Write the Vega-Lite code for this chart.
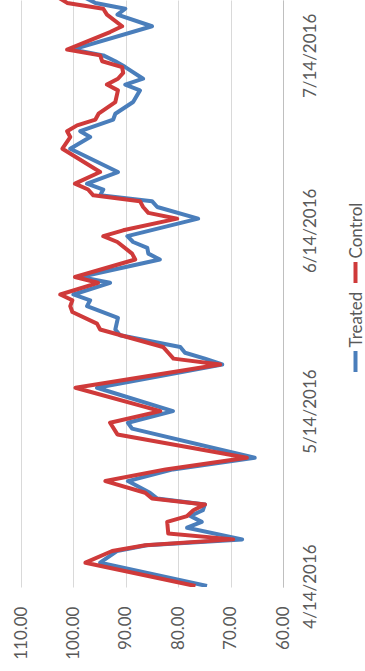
{
  "$schema": "https://vega.github.io/schema/vega-lite/v6.json",
  "width": 262,
  "height": 587,
  "autosize": {"type": "none"},
  "padding": {"left": 21, "top": 0, "right": 82, "bottom": 84},
  "background": "white",
  "config": {"view": {"stroke": null}, "font": "Lato"},
  "datasets": {
    "d": [
      {"date": "2016-04-14", "series": "Treated", "value": 74.5},
      {"date": "2016-04-18", "series": "Treated", "value": 94.9},
      {"date": "2016-04-20", "series": "Treated", "value": 91.7},
      {"date": "2016-04-21", "series": "Treated", "value": 86.0},
      {"date": "2016-04-22", "series": "Treated", "value": 67.8},
      {"date": "2016-04-24", "series": "Treated", "value": 78.3},
      {"date": "2016-04-25", "series": "Treated", "value": 75.5},
      {"date": "2016-04-26", "series": "Treated", "value": 77.7},
      {"date": "2016-04-27", "series": "Treated", "value": 75.3},
      {"date": "2016-04-28", "series": "Treated", "value": 74.9},
      {"date": "2016-04-29", "series": "Treated", "value": 84.0},
      {"date": "2016-04-30", "series": "Treated", "value": 85.4},
      {"date": "2016-05-02", "series": "Treated", "value": 89.6},
      {"date": "2016-05-04", "series": "Treated", "value": 81.0},
      {"date": "2016-05-06", "series": "Treated", "value": 65.4},
      {"date": "2016-05-11", "series": "Treated", "value": 88.8},
      {"date": "2016-05-12", "series": "Treated", "value": 89.6},
      {"date": "2016-05-14", "series": "Treated", "value": 81.0},
      {"date": "2016-05-18", "series": "Treated", "value": 95.5},
      {"date": "2016-05-22", "series": "Treated", "value": 71.6},
      {"date": "2016-05-23", "series": "Treated", "value": 74.9},
      {"date": "2016-05-24", "series": "Treated", "value": 78.7},
      {"date": "2016-05-25", "series": "Treated", "value": 79.6},
      {"date": "2016-05-27", "series": "Treated", "value": 91.1},
      {"date": "2016-05-28", "series": "Treated", "value": 92.0},
      {"date": "2016-05-30", "series": "Treated", "value": 91.5},
      {"date": "2016-06-01", "series": "Treated", "value": 97.4},
      {"date": "2016-06-02", "series": "Treated", "value": 96.8},
      {"date": "2016-06-03", "series": "Treated", "value": 100.0},
      {"date": "2016-06-05", "series": "Treated", "value": 93.0},
      {"date": "2016-06-06", "series": "Treated", "value": 98.7},
      {"date": "2016-06-09", "series": "Treated", "value": 83.5},
      {"date": "2016-06-10", "series": "Treated", "value": 85.7},
      {"date": "2016-06-11", "series": "Treated", "value": 85.9},
      {"date": "2016-06-12", "series": "Treated", "value": 88.6},
      {"date": "2016-06-13", "series": "Treated", "value": 89.7},
      {"date": "2016-06-16", "series": "Treated", "value": 76.2},
      {"date": "2016-06-18", "series": "Treated", "value": 84.0},
      {"date": "2016-06-19", "series": "Treated", "value": 85.0},
      {"date": "2016-06-20", "series": "Treated", "value": 94.9},
      {"date": "2016-06-21", "series": "Treated", "value": 94.3},
      {"date": "2016-06-22", "series": "Treated", "value": 97.4},
      {"date": "2016-06-24", "series": "Treated", "value": 91.5},
      {"date": "2016-06-28", "series": "Treated", "value": 100.6},
      {"date": "2016-06-30", "series": "Treated", "value": 96.8},
      {"date": "2016-07-01", "series": "Treated", "value": 98.7},
      {"date": "2016-07-03", "series": "Treated", "value": 92.4},
      {"date": "2016-07-04", "series": "Treated", "value": 92.0},
      {"date": "2016-07-06", "series": "Treated", "value": 88.6},
      {"date": "2016-07-08", "series": "Treated", "value": 87.3},
      {"date": "2016-07-09", "series": "Treated", "value": 90.1},
      {"date": "2016-07-10", "series": "Treated", "value": 86.7},
      {"date": "2016-07-12", "series": "Treated", "value": 90.1},
      {"date": "2016-07-13", "series": "Treated", "value": 92.0},
      {"date": "2016-07-14", "series": "Treated", "value": 94.3},
      {"date": "2016-07-15", "series": "Treated", "value": 100.2},
      {"date": "2016-07-19", "series": "Treated", "value": 85.0},
      {"date": "2016-07-21", "series": "Treated", "value": 91.6},
      {"date": "2016-07-22", "series": "Treated", "value": 90.1},
      {"date": "2016-07-23", "series": "Treated", "value": 95.8},
      {"date": "2016-07-24", "series": "Treated", "value": 98.0},
      {"date": "2016-04-14", "series": "Control", "value": 76.7},
      {"date": "2016-04-18", "series": "Control", "value": 97.7},
      {"date": "2016-04-20", "series": "Control", "value": 92.6},
      {"date": "2016-04-21", "series": "Control", "value": 86.3},
      {"date": "2016-04-22", "series": "Control", "value": 69.5},
      {"date": "2016-04-23", "series": "Control", "value": 81.9},
      {"date": "2016-04-25", "series": "Control", "value": 82.1},
      {"date": "2016-04-26", "series": "Control", "value": 78.3},
      {"date": "2016-04-27", "series": "Control", "value": 77.1},
      {"date": "2016-04-28", "series": "Control", "value": 74.9},
      {"date": "2016-04-29", "series": "Control", "value": 85.0},
      {"date": "2016-04-30", "series": "Control", "value": 86.3},
      {"date": "2016-05-02", "series": "Control", "value": 93.9},
      {"date": "2016-05-04", "series": "Control", "value": 82.4},
      {"date": "2016-05-06", "series": "Control", "value": 66.9},
      {"date": "2016-05-10", "series": "Control", "value": 91.6},
      {"date": "2016-05-12", "series": "Control", "value": 93.0},
      {"date": "2016-05-14", "series": "Control", "value": 83.4},
      {"date": "2016-05-18", "series": "Control", "value": 99.6},
      {"date": "2016-05-22", "series": "Control", "value": 72.0},
      {"date": "2016-05-23", "series": "Control", "value": 80.9},
      {"date": "2016-05-24", "series": "Control", "value": 81.9},
      {"date": "2016-05-25", "series": "Control", "value": 82.9},
      {"date": "2016-05-28", "series": "Control", "value": 94.9},
      {"date": "2016-05-29", "series": "Control", "value": 95.5},
      {"date": "2016-05-31", "series": "Control", "value": 100.2},
      {"date": "2016-06-01", "series": "Control", "value": 100.6},
      {"date": "2016-06-02", "series": "Control", "value": 100.2},
      {"date": "2016-06-03", "series": "Control", "value": 102.5},
      {"date": "2016-06-05", "series": "Control", "value": 95.3},
      {"date": "2016-06-06", "series": "Control", "value": 99.7},
      {"date": "2016-06-09", "series": "Control", "value": 88.2},
      {"date": "2016-06-10", "series": "Control", "value": 88.8},
      {"date": "2016-06-12", "series": "Control", "value": 91.6},
      {"date": "2016-06-13", "series": "Control", "value": 94.3},
      {"date": "2016-06-14", "series": "Control", "value": 90.5},
      {"date": "2016-06-16", "series": "Control", "value": 80.2},
      {"date": "2016-06-17", "series": "Control", "value": 85.7},
      {"date": "2016-06-18", "series": "Control", "value": 86.7},
      {"date": "2016-06-19", "series": "Control", "value": 87.3},
      {"date": "2016-06-20", "series": "Control", "value": 96.2},
      {"date": "2016-06-21", "series": "Control", "value": 97.2},
      {"date": "2016-06-22", "series": "Control", "value": 99.7},
      {"date": "2016-06-24", "series": "Control", "value": 94.9},
      {"date": "2016-06-28", "series": "Control", "value": 102.1},
      {"date": "2016-06-30", "series": "Control", "value": 100.6},
      {"date": "2016-07-01", "series": "Control", "value": 101.2},
      {"date": "2016-07-02", "series": "Control", "value": 99.3},
      {"date": "2016-07-03", "series": "Control", "value": 95.8},
      {"date": "2016-07-04", "series": "Control", "value": 95.2},
      {"date": "2016-07-06", "series": "Control", "value": 92.0},
      {"date": "2016-07-08", "series": "Control", "value": 91.5},
      {"date": "2016-07-09", "series": "Control", "value": 93.6},
      {"date": "2016-07-10", "series": "Control", "value": 91.5},
      {"date": "2016-07-11", "series": "Control", "value": 90.5},
      {"date": "2016-07-12", "series": "Control", "value": 90.7},
      {"date": "2016-07-13", "series": "Control", "value": 94.5},
      {"date": "2016-07-14", "series": "Control", "value": 94.9},
      {"date": "2016-07-15", "series": "Control", "value": 101.2},
      {"date": "2016-07-18", "series": "Control", "value": 93.0},
      {"date": "2016-07-19", "series": "Control", "value": 90.7},
      {"date": "2016-07-21", "series": "Control", "value": 93.6},
      {"date": "2016-07-22", "series": "Control", "value": 94.3},
      {"date": "2016-07-23", "series": "Control", "value": 101.2},
      {"date": "2016-07-24", "series": "Control", "value": 103.0}
    ]
  },
  "data": {"name": "d"},
  "encoding": {
    "x": {
      "field": "value",
      "type": "quantitative",
      "scale": {"domain": [60, 110], "reverse": true, "nice": false, "zero": false},
      "axis": {
        "title": null,
        "values": [60, 70, 80, 90, 100, 110],
        "format": ".2f",
        "labelAngle": -90,
        "labelAlign": "right",
        "labelBaseline": "middle",
        "labelPadding": 19,
        "labelFontSize": 17,
        "labelColor": "#595959",
        "labelFont": "Lato",
        "ticks": false,
        "domain": false,
        "grid": true,
        "gridColor": "#d9d9d9",
        "gridWidth": 1,
        "labelOverlap": false
      }
    },
    "y": {
      "field": "date",
      "type": "temporal",
      "scale": {
        "type": "utc",
        "domain": [
          {"year": 2016, "month": 4, "date": 13, "hours": 20, "utc": true},
          {"year": 2016, "month": 7, "date": 23, "hours": 12, "utc": true}
        ]
      },
      "axis": {
        "orient": "right",
        "title": null,
        "values": [
          {"year": 2016, "month": 4, "date": 14, "utc": true},
          {"year": 2016, "month": 5, "date": 14, "utc": true},
          {"year": 2016, "month": 6, "date": 14, "utc": true},
          {"year": 2016, "month": 7, "date": 14, "utc": true}
        ],
        "labelExpr": "utcFormat(datum.value, '%-m/%-d/%Y')",
        "labelAngle": -90,
        "labelAlign": "center",
        "labelBaseline": "middle",
        "labelPadding": 27,
        "labelFontSize": 17,
        "labelColor": "#595959",
        "labelFont": "Lato",
        "ticks": false,
        "grid": false,
        "domain": true,
        "domainColor": "#bfbfbf",
        "labelOverlap": false
      }
    },
    "color": {
      "field": "series",
      "type": "nominal",
      "scale": {"domain": ["Control", "Treated"], "range": ["#cf3a3a", "#4a7ebb"]},
      "legend": {
        "orient": "none",
        "legendX": 322,
        "legendY": 260,
        "direction": "vertical",
        "title": null,
        "symbolType": "M0,-1L0,1",
        "symbolSize": 441,
        "symbolStrokeWidth": 4,
        "labelFontSize": 17,
        "labelColor": "#595959",
        "labelFont": "Lato",
        "labelOffset": 0,
        "rowPadding": 0,
        "encode": {
          "labels": {
            "update": {
              "angle": {"value": -90},
              "align": {"value": "left"},
              "baseline": {"value": "middle"},
              "dx": {"value": 14},
              "dy": {"value": -11}
            }
          }
        }
      }
    },
    "order": {"field": "date", "type": "temporal"}
  },
  "layer": [
    {
      "transform": [{"filter": "datum.series === 'Treated'"}],
      "mark": {"type": "line", "strokeWidth": 4, "strokeJoin": "round", "clip": true}
    },
    {
      "transform": [{"filter": "datum.series === 'Control'"}],
      "mark": {"type": "line", "strokeWidth": 4, "strokeJoin": "round", "clip": true}
    }
  ]
}
